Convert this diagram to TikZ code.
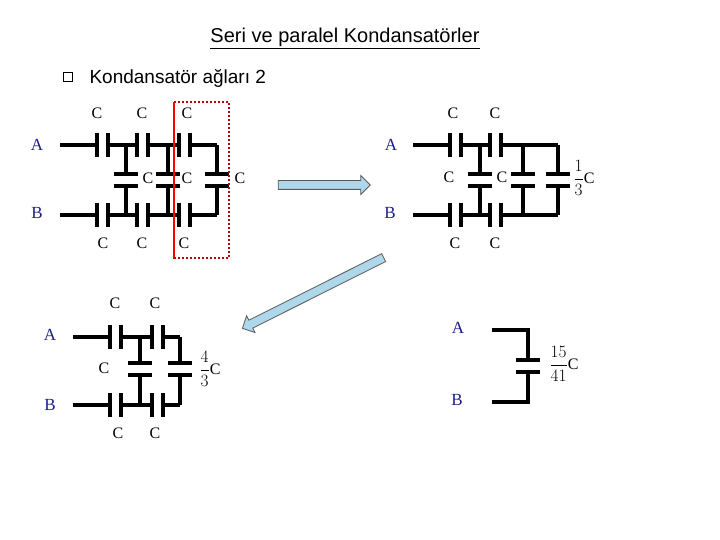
\documentclass[tikz,border=0pt]{standalone}
\usepackage{fontspec}
\setmainfont{Liberation Serif}
\newfontfamily\arialfont{Liberation Sans}
\usepackage{tikz}
\usetikzlibrary{shapes.arrows}
\definecolor{navy}{RGB}{30,30,140}
\definecolor{arrowblue}{RGB}{175,215,235}
\tikzset{
  wire/.style={line width=3.2pt, line join=miter},
  lbl/.style={font=\fontsize{16}{18}\selectfont},
  term/.style={font=\fontsize{17}{19}\selectfont, text=navy},
  blockarrow/.style={single arrow, draw=gray!70!black, fill=arrowblue, line width=0.8pt,
    minimum height=#1, inner xsep=0pt, inner ysep=4pt, single arrow head extend=5pt},
  pics/hcap/.style={code={\draw[wire] (-5.5,-12)--(-5.5,12) (5.5,-12)--(5.5,12);}},
  pics/vcap/.style={code={\draw[wire] (-12,-6)--(12,-6) (-12,6)--(12,6);}}
}
\begin{document}
\begin{tikzpicture}[x=1pt,y=-1pt]
    \useasboundingbox (0,0) rectangle (720,540);
    % title
    \node[font=\arialfont\fontsize{20}{22}\selectfont] (title) at (345,38) {\underline{Seri ve paralel Kondansatörler}};
    \node[draw, line width=0.8pt, minimum size=9pt, inner sep=0pt, fill=white] (bullet) at (68,77) {};
    \node[anchor=west, font=\arialfont\fontsize{19}{21}\selectfont] (sub) at (86,78) {Kondansatör ağları 2};

    % circuit 1
    \node[term] (A1) at (37,145) {A};
    \node[term] (B1) at (37,213) {B};
    \foreach \y in {145,215}{
      \draw[wire] (60,\y)--(97,\y) (108,\y)--(137,\y) (148,\y)--(179,\y) (190,\y)--(217,\y);
      \foreach \x in {102.5,142.5,184.5} \pic at (\x,\y) {hcap};
    }
    \foreach \x in {126,168,217}{
      \draw[wire] (\x,145)--(\x,174) (\x,186)--(\x,215);
      \pic at (\x,180) {vcap};
    }
    \foreach \x/\t in {97/C,142/C,187/C} \node[lbl] at (\x,113) {\t};
    \foreach \x/\t in {103/C,142/C,184/C} \node[lbl] at (\x,243) {\t};
    \foreach \x/\t in {148/C,187/C,240/C} \node[lbl] at (\x,178) {\t};
    \draw[red!75!black, line width=2pt, dotted] (174,102) rectangle (229,258);
    \draw[red, line width=1.6pt] (174,102)--(174,258);

    % circuit 2
    \node[term] (A2) at (391,145) {A};
    \node[term] (B2) at (390,213) {B};
    \foreach \y in {145,215}{
      \draw[wire] (413,\y)--(450,\y) (461,\y)--(490,\y) (501,\y)--(558,\y);
      \foreach \x in {455.5,495.5} \pic at (\x,\y) {hcap};
    }
    \foreach \x in {480,523,558}{
      \draw[wire] (\x,145)--(\x,174) (\x,186)--(\x,215);
      \pic at (\x,180) {vcap};
    }
    \foreach \x in {453,495} \node[lbl] at (\x,113) {C};
    \foreach \x in {455,495} \node[lbl] at (\x,243) {C};
    \node[lbl] at (449,177) {C};
    \node[lbl] at (502,177) {C};
    \node[lbl, anchor=west] at (570,178) {$\displaystyle\frac{1}{3}$C};

    % circuit 3
    \node[term] (A3) at (50,335) {A};
    \node[term] (B3) at (50,405) {B};
    \foreach \y in {337,405}{
      \draw[wire] (73,\y)--(110,\y) (121,\y)--(152,\y) (163,\y)--(180,\y);
      \foreach \x in {115.5,157.5} \pic at (\x,\y) {hcap};
    }
    \foreach \x in {140,180}{
      \draw[wire] (\x,337)--(\x,363) (\x,375)--(\x,405);
      \pic at (\x,369) {vcap};
    }
    \foreach \x in {115,155} \node[lbl] at (\x,303) {C};
    \foreach \x in {118,155} \node[lbl] at (\x,433) {C};
    \node[lbl] at (104,368) {C};
    \node[lbl, anchor=west] at (196,369) {$\displaystyle\frac{4}{3}$C};

    % circuit 4
    \node[term] (A4) at (458,328) {A};
    \node[term] (B4) at (457,400) {B};
    \draw[wire] (492,330)--(528,330)--(528,360) (528,372)--(528,402)--(492,402);
    \pic at (528,366) {vcap};
    \node[lbl, anchor=west] at (546,364) {$\displaystyle\frac{15}{41}$C};

    % arrows
    \node[blockarrow=92pt] (arr1) at (322,185) {};
    \node[blockarrow=158pt, rotate=206.6] (arr2) at (315,292) {};
\end{tikzpicture}
\end{document}
